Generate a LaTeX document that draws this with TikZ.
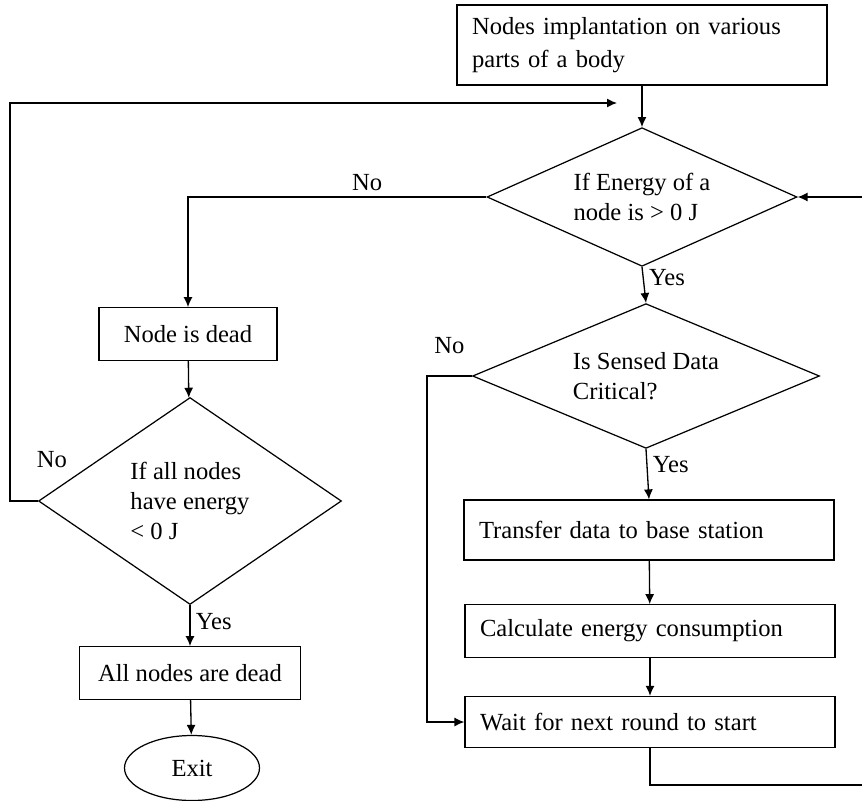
\documentclass[tikz,border=0pt]{standalone}
\usepackage{fontspec}
\setmainfont{Liberation Serif}
\usetikzlibrary{shapes,arrows,arrows.meta,positioning}

\begin{document}
\begin{tikzpicture}[
    x=0.02cm, y=-0.02cm,
    >={Latex[length=2mm,width=1.8mm]},
    font=\fontsize{14pt}{18.7pt}\selectfont,
    box/.style={draw,line width=0.7pt,minimum height=1.05cm},
    leftbox/.style={box,align=left,text width=6.8cm,inner xsep=0.3cm},
    decision/.style={draw,diamond,line width=0.7pt,align=left,inner sep=0pt,shape aspect=1.5,font=\fontsize{14pt}{17pt}\selectfont},
    flow/.style={->,line width=0.75pt},
    lbl/.style={draw=none,inner sep=3pt},
]
\useasboundingbox (0,0) rectangle (862,801);
\clip (0,0) rectangle (862,801);

% Start
\node[leftbox,minimum height=1.6cm] (implant) at (642,45) {Nodes implantation on various\\parts of a body};

% Energy check
\node[decision,minimum width=6.2cm,minimum height=2.7cm] (energy) at (642,197) {If Energy of a\\node is > 0 J};

% Critical data check
\node[decision,minimum width=6.94cm,minimum height=2.7cm] (critical) at (646,376) {Is Sensed Data\\Critical?};

% Right column boxes
\node[leftbox,minimum height=1.2cm] (transfer) at (649,530) {Transfer data to base station};
\node[leftbox] (calc) at (650,631) {Calculate energy consumption};
\node[leftbox,minimum height=1.02cm] (wait) at (650,722) {Wait for next round to start};

% Left column
\node[box,minimum width=3.56cm] (dead) at (188,334) {Node is dead};
\node[decision,minimum width=6.06cm,minimum height=4.14cm] (alldec) at (190,501) {If all nodes\\have energy\\< 0 J\hspace{0.35cm}};
\node[box,minimum width=4.42cm] (alldead) at (190,673) {All nodes are dead};
\node[draw,ellipse,line width=0.7pt,minimum width=2.7cm,minimum height=1.3cm] (exit) at (192,768) {Exit};

% Loop ends
\coordinate (loopin) at (617,103);
\coordinate (loopout) at (880,785);

% Connections
\draw[flow] (implant) -- (energy);
\draw[flow] (energy.west) -| node[lbl,pos=0.2,above] {No} (dead.north);
\draw[flow] (energy.south) -- node[lbl,pos=0.3,right] {Yes} (critical.north);
\draw[flow] (critical.west) -- node[lbl,above=0.32cm] {No} ++(-45,0) |- (wait.west);
\draw[flow] (critical.south) -- node[lbl,pos=0.3,right] {Yes} (transfer.north);
\draw[flow] (transfer) -- (calc);
\draw[flow] (calc) -- (wait);
\draw[flow] (wait.south) |- (loopout) |- (energy.east);

\draw[flow] (dead) -- (alldec);
\draw[flow] (alldec.south) -- node[lbl,pos=0.4,right] {Yes} (alldead.north);
\draw[flow] (alldead) -- (exit);
\draw[flow] (alldec.west) node[lbl,xshift=0.28cm,yshift=0.82cm] {No} -- ++(-28,0) |- (loopin);

\end{tikzpicture}
\end{document}
